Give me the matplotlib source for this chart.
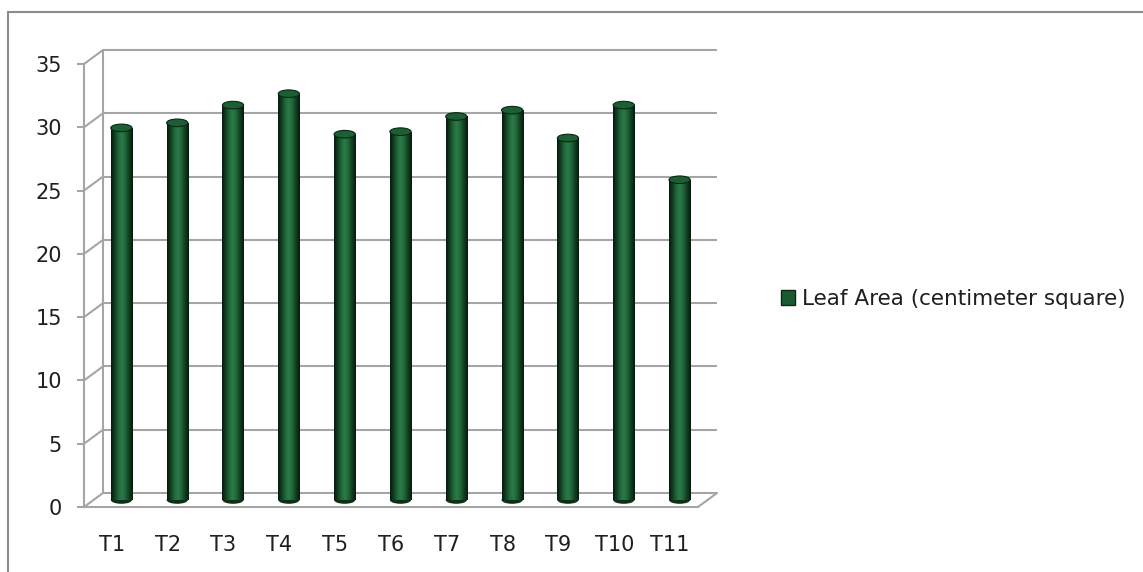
import numpy as np
import matplotlib
matplotlib.use("Agg")
import matplotlib.pyplot as plt
from matplotlib.colors import LinearSegmentedColormap
from matplotlib.patches import Ellipse, Patch, ConnectionPatch
from matplotlib.lines import Line2D

# ---- data ----
categories = ["T1", "T2", "T3", "T4", "T5", "T6", "T7", "T8", "T9", "T10", "T11"]
leaf_area = [29.4, 29.8, 31.2, 32.1, 28.9, 29.1, 30.3, 30.8, 28.6, 31.2, 25.3]
series_name = "Leaf Area (centimeter square)"
y_ticks = [0, 5, 10, 15, 20, 25, 30, 35]

plt.rcParams["font.family"] = ["DejaVu Sans"]

W, H = 1143, 572
fig = plt.figure(figsize=(W / 100, H / 100), dpi=100)
fig.patch.set_facecolor("white")

def frac_box(left, top, right, bottom):
    return [left / W, 1 - bottom / H, (right - left) / W, (bottom - top) / H]

# back wall (pixels): x 103..717, value 0 at y=493, 35 at y=50
ax = fig.add_axes(frac_box(103, 50, 717, 493))
# front axis, shifted left/down to give the 3-D depth
DX, DY = -19, 14
axf = fig.add_axes(frac_box(103 + DX, 50 + DY, 717 + DX, 493 + DY))

n = len(categories)
x = np.arange(n)
for a in (ax, axf):
    a.set_xlim(-0.5, n - 0.5)
    a.set_ylim(0, 35)
    a.patch.set_alpha(0)

grid_c = "#a5a5a5"
lw_grid = 1.5
text_c = "#1f1f1f"
fs = 15

# back wall gridlines and left edge
ax.axis("off")
ax.hlines(y_ticks, -0.5, n - 0.5, colors=grid_c, lw=lw_grid, zorder=1, clip_on=False)
ax.vlines(-0.5, 0, 35, colors=grid_c, lw=lw_grid, zorder=1, clip_on=False)

# depth connectors from front axis to back wall
for v in y_ticks:
    fig.add_artist(ConnectionPatch(xyA=(-0.5, v), coordsA=axf.transData,
                                   xyB=(-0.5, v), coordsB=ax.transData,
                                   color=grid_c, lw=lw_grid))
fig.add_artist(ConnectionPatch(xyA=(n - 0.5, 0), coordsA=axf.transData,
                               xyB=(n - 0.5, 0), coordsB=ax.transData,
                               color=grid_c, lw=lw_grid))

# front axis styling
for s in ("top", "right"):
    axf.spines[s].set_visible(False)
for s in ("left", "bottom"):
    axf.spines[s].set_color(grid_c)
    axf.spines[s].set_linewidth(lw_grid)
axf.set_yticks(y_ticks)
axf.set_yticklabels([str(v) for v in y_ticks])
axf.tick_params(axis="y", length=5, width=lw_grid, color=grid_c, pad=11,
                labelsize=fs, labelcolor=text_c)
axf.set_xticks(x)
axf.set_xticklabels(categories)
axf.tick_params(axis="x", length=0, pad=20, labelsize=fs, labelcolor=text_c)

# cylinders, standing at mid depth
mid_dx = DX / 2 / (614 / n)          # data-unit shift on x
mid_dy = -DY / 2 / (443 / 35)        # data-unit shift on y
bw = 0.38
cyl_cmap = LinearSegmentedColormap.from_list(
    "cyl", ["#061a0c", "#123f21", "#20673b", "#2d7b49", "#1f6337", "#113d1f", "#061a0c"])
grad = np.linspace(0, 1, 64)[None, :]
cap_h = 0.6

bars = ax.bar(x + mid_dx, leaf_area, width=bw, bottom=mid_dy,
              color="#174f2b", edgecolor="none", zorder=3, clip_on=False)
for rect, v in zip(bars.patches, leaf_area):
    x0, y0 = rect.get_x(), rect.get_y()
    w, h = rect.get_width(), rect.get_height()
    xc = x0 + w / 2
    # rounded bottom
    bot = Ellipse((xc, y0), w, cap_h, facecolor="#0c3018", edgecolor="none",
                  zorder=2.9, clip_on=False)
    ax.add_patch(bot)
    for clip in (rect, bot):
        im = ax.imshow(grad, cmap=cyl_cmap, aspect="auto",
                       extent=(x0, x0 + w, y0 - cap_h / 2, y0 + h), zorder=3.1,
                       interpolation="bicubic")
        im.set_clip_path(clip)
    cap = Ellipse((xc, y0 + h), w, cap_h, facecolor="#1d5f34",
                  edgecolor="#0a2713", lw=0.8, zorder=3.3, clip_on=False)
    ax.add_patch(cap)
ax.set_xlim(-0.5, n - 0.5)
ax.set_ylim(0, 35)

# legend
fig.legend(handles=[Patch(facecolor="#1b5a31", edgecolor="#0a2713")],
           labels=[series_name], loc="center left",
           bbox_to_anchor=(762 / W, 1 - 299 / H), frameon=False,
           handlelength=0.65, handleheight=0.65, handletextpad=0.3,
           fontsize=15.5, labelcolor=text_c)

# outer chart border (top and left)
border_c = "#8c8c8c"
fig.add_artist(Line2D([8 / W, 1], [1 - 12 / H, 1 - 12 / H], color=border_c, lw=1.5))
fig.add_artist(Line2D([8 / W, 8 / W], [0, 1 - 12 / H], color=border_c, lw=1.5))

fig.savefig("out.png", dpi=100, facecolor="white")
